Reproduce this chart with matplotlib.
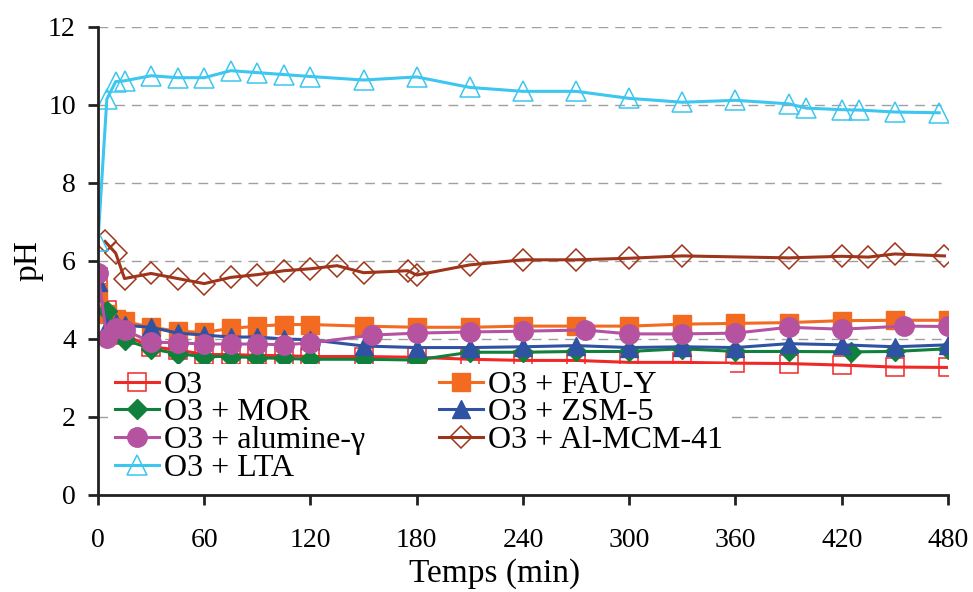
import matplotlib
matplotlib.use("Agg")
import matplotlib.pyplot as plt

plt.rcParams['font.family'] = ['Liberation Serif', 'DejaVu Serif']

# temps (min) et pH
t_o3 = [0, 5, 10, 15, 30, 45, 60, 75, 90, 105, 120, 150, 180, 210, 240, 270, 300, 330, 360, 390, 420, 450, 480]
ph_o3 = [5.6, 4.75, 4.3, 4.1, 3.8, 3.72, 3.6, 3.6, 3.58, 3.57, 3.55, 3.55, 3.53, 3.48, 3.45, 3.45, 3.4, 3.4, 3.38, 3.37, 3.33, 3.28, 3.27]

t_fau = [0, 5, 10, 15, 30, 45, 60, 75, 90, 105, 120, 150, 180, 210, 240, 270, 300, 330, 360, 390, 420, 450, 480]
ph_fau = [5.2, 4.65, 4.5, 4.45, 4.3, 4.2, 4.17, 4.27, 4.33, 4.37, 4.37, 4.33, 4.3, 4.3, 4.33, 4.33, 4.33, 4.38, 4.4, 4.42, 4.47, 4.48, 4.48]

t_mor = [5, 15, 30, 45, 60, 75, 90, 105, 120, 150, 180, 210, 240, 270, 300, 330, 360, 390, 425, 450, 480]
ph_mor = [4.72, 3.98, 3.75, 3.62, 3.55, 3.55, 3.52, 3.5, 3.48, 3.48, 3.46, 3.66, 3.66, 3.68, 3.68, 3.75, 3.68, 3.68, 3.67, 3.68, 3.75]

t_zsm = [0, 5, 10, 15, 30, 45, 60, 75, 90, 105, 120, 150, 180, 210, 240, 270, 300, 330, 360, 390, 420, 450, 480]
ph_zsm = [5.45, 4.3, 4.42, 4.35, 4.3, 4.15, 4.1, 4.05, 4.05, 4.0, 3.98, 3.82, 3.78, 3.78, 3.8, 3.83, 3.78, 3.8, 3.78, 3.88, 3.85, 3.8, 3.85]

t_alu = [0, 5, 10, 15, 30, 45, 60, 75, 90, 105, 120, 155, 180, 210, 240, 275, 300, 330, 360, 390, 420, 455, 480]
ph_alu = [5.7, 4.03, 4.28, 4.23, 3.92, 3.9, 3.87, 3.87, 3.87, 3.85, 3.9, 4.1, 4.15, 4.18, 4.2, 4.23, 4.13, 4.13, 4.15, 4.3, 4.25, 4.33, 4.32]

t_mcm = [4, 10, 15, 30, 45, 60, 75, 90, 105, 120, 135, 150, 175, 180, 210, 240, 270, 300, 330, 390, 420, 435, 450, 478]
ph_mcm = [6.5, 6.2, 5.55, 5.68, 5.55, 5.42, 5.58, 5.65, 5.75, 5.8, 5.88, 5.7, 5.75, 5.64, 5.9, 6.03, 6.03, 6.07, 6.13, 6.08, 6.12, 6.1, 6.18, 6.13]

t_lta = [0, 5, 10, 15, 30, 45, 60, 75, 90, 105, 120, 150, 180, 210, 240, 270, 300, 330, 360, 390, 400, 420, 430, 450, 475]
ph_lta = [6.5, 10.15, 10.6, 10.62, 10.75, 10.7, 10.7, 10.88, 10.83, 10.78, 10.73, 10.64, 10.72, 10.45, 10.35, 10.35, 10.17, 10.07, 10.12, 10.03, 9.92, 9.88, 9.87, 9.82, 9.8]

fig = plt.figure(figsize=(9.73, 5.92), dpi=100)
ax = fig.add_axes([0.1007, 0.1639, 0.8736, 0.7905])

lw = 2.2
l_o3, = ax.plot(t_o3, ph_o3, color='#f02828', lw=lw, marker='s', ms=12.5, mfc='none', mec='#f02828', mew=1.1, label='O3')
l_fau, = ax.plot(t_fau, ph_fau, color='#f26b21', lw=lw, marker='s', ms=12.5, mec='#f26b21', label='O3 + FAU-Y')
l_mor, = ax.plot(t_mor, ph_mor, color='#10803c', lw=lw, marker='D', ms=10.5, mec='#10803c', label='O3 + MOR')
l_zsm, = ax.plot(t_zsm, ph_zsm, color='#2f52a3', lw=lw, marker='^', ms=13, mec='#2f52a3', label='O3 + ZSM-5')
l_alu, = ax.plot(t_alu, ph_alu, color='#b553a0', lw=lw, marker='o', ms=14, mec='#b553a0', label='O3 + alumine-γ')
l_mcm, = ax.plot(t_mcm, ph_mcm, color='#9e3419', lw=lw, marker='D', ms=11, mfc='none', mec='#9e3419', mew=1.1, label='O3 + Al-MCM-41')
l_lta, = ax.plot(t_lta, ph_lta, color='#3cc6f0', lw=lw, marker='^', ms=14, mfc='none', mec='#3cc6f0', mew=1.1, label='O3 + LTA')

ax.set_xlim(0, 480)
ax.set_ylim(0, 12)
ax.set_xticks(range(0, 481, 60))
ax.set_yticks(range(0, 13, 2))
for y in range(2, 13, 2):
    ax.axhline(y, color='#a0a0a0', lw=1, ls=(0, (7, 5)), zorder=0)

for s in ['top', 'right']:
    ax.spines[s].set_visible(False)
for s in ['left', 'bottom']:
    ax.spines[s].set_linewidth(2)
    ax.spines[s].set_color('#222222')
ax.tick_params(axis='both', direction='out', length=7, width=2, color='#222222', labelsize=20)
ax.tick_params(axis='x', pad=17)
ax.tick_params(axis='y', pad=9)

ax.set_xlabel('Temps (min)', fontsize=24, labelpad=0)
ax.xaxis.set_label_coords(0.467, -0.135)
ax.set_ylabel('pH', fontsize=24, labelpad=3)

handles = [l_o3, l_mor, l_alu, l_lta, l_fau, l_zsm, l_mcm]
leg = ax.legend(handles=handles, ncol=2, loc='upper left', bbox_to_anchor=(0.012, 0.28),
                fontsize=23, frameon=True, fancybox=False, edgecolor='none', framealpha=1,
                borderpad=0.2, borderaxespad=0, labelspacing=-0.05, handlelength=1.4,
                handletextpad=0.15, columnspacing=2.3)

fig.savefig('out.png', dpi=100)
